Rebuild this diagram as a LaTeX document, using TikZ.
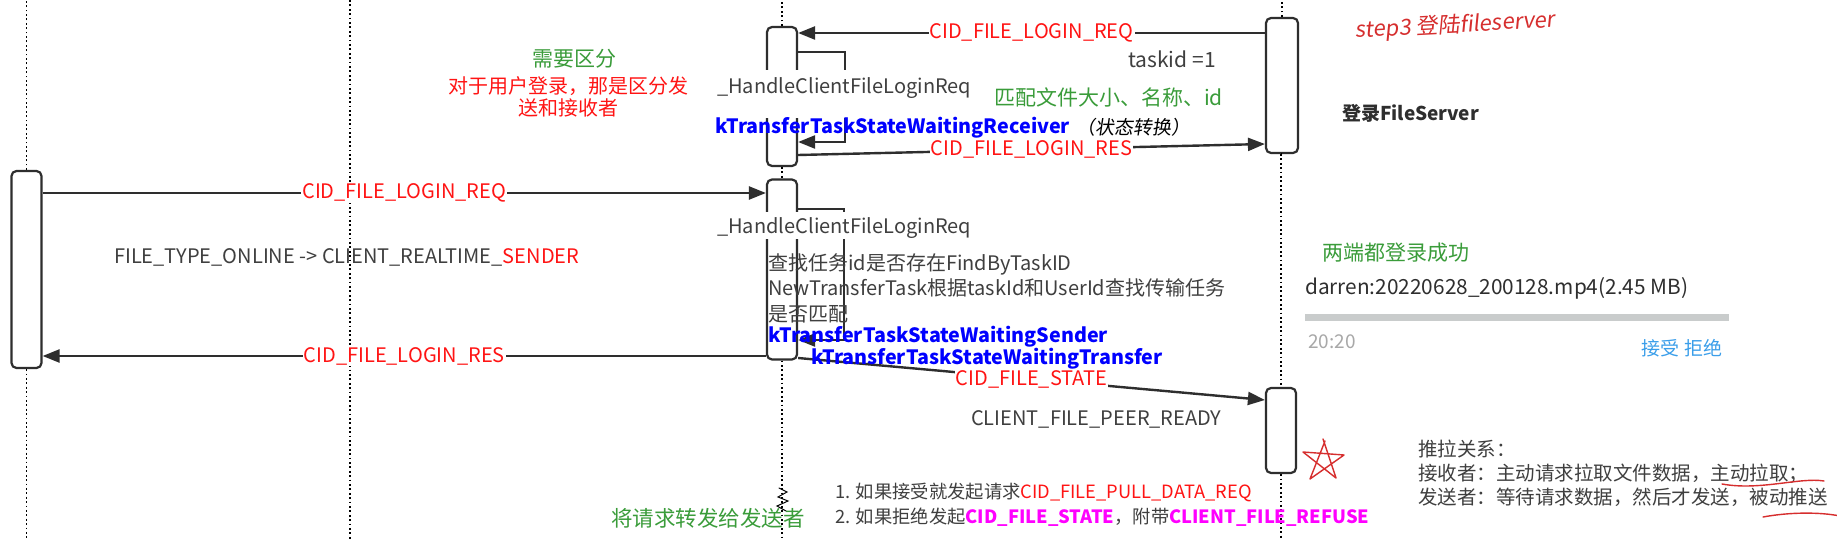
\documentclass[tikz,border=0pt]{standalone}
\usepackage{fontspec}
\setmainfont{Noto Sans CJK SC}
\newfontfamily\handfont[FakeSlant=0.15]{Noto Sans CJK SC}
\usetikzlibrary{arrows.meta}
\definecolor{ink}{HTML}{2E2E2E}
\definecolor{txtgray}{HTML}{3F3F3F}
\definecolor{noteRed}{HTML}{FF1414}
\definecolor{noteGreen}{HTML}{3A9C3A}
\definecolor{stateBlue}{HTML}{0000FF}
\definecolor{refuseMag}{HTML}{FF00FF}
\definecolor{penRed}{HTML}{D62E2E}
\definecolor{barGray}{HTML}{C9CCCC}
\definecolor{timeGray}{HTML}{A8A8A8}
\definecolor{btnBlue}{HTML}{3A9EEA}

\begin{document}
\begin{tikzpicture}[x=1pt, y=-1pt,
  lifeline/.style={draw=black, line width=1.8pt, dash pattern=on 1.8pt off 2.6pt},
  actbox/.style={draw=ink, line width=2.2pt, rounded corners=5pt, fill=white, minimum width=30pt, inner sep=0pt},
  msg/.style={draw=ink, line width=2.4pt, -{Triangle[length=17pt, width=13pt]}},
  msglabel/.style={fill=white, text=noteRed, inner sep=1pt, font=\fontsize{20}{24}\selectfont},
  note/.style={anchor=west, inner sep=0pt, text=txtgray, font=\fontsize{20}{25.5}\selectfont},
  state/.style={note, text=stateBlue, font=\fontsize{19.7}{25}\selectfont\bfseries},
  pen/.style={draw=penRed, line width=1.4pt, line cap=round, line join=round}]
  \useasboundingbox[fill=white] (0,0) rectangle (1837,540);
  \coordinate (top) at (0,0);
  \coordinate (bot) at (0,540);
  \coordinate (l2) at (350,0);

  \node[actbox, minimum height=197pt] (b1) at (26.5,269.5) {};
  \node[actbox, minimum height=139pt] (bA) at (782,96.5) {};
  \node[actbox, minimum height=180pt] (bB) at (782,269.5) {};
  \node[actbox, minimum width=32pt, minimum height=135pt] (bC) at (1282,85.5) {};
  \node[actbox, minimum height=85pt] (bD) at (1281,430.5) {};

  \draw[lifeline] (b1.north) -- (b1.north |- top);
  \draw[lifeline] (b1.south) -- (b1.south |- bot);
  \draw[lifeline] (l2) -- (l2 |- bot);
  \draw[lifeline] (bA.north) -- (bA.north |- top);
  \draw[lifeline] (bA.south) -- (bB.north);
  \draw[lifeline] (bB.south) -- (bB.south |- bot);
  \draw[lifeline] (bC.north) -- (bC.north |- top);
  \draw[lifeline] (bC.south) -- (bC.south -| bD.north);
  \draw[lifeline] (bC.south -| bD.north) -- (bD.north);
  \draw[lifeline] (bD.south) -- (bD.south |- bot);

  \draw[msg] (bC.west |- {(0,33)}) -- node[msglabel] (reqA) {CID\_FILE\_LOGIN\_REQ} (bA.east |- {(0,33)});
  \draw[msg] (bA.east |- {(0,52)}) -- ++(47,0) -- ++(0,90) -- (bA.east |- {(0,142)});
  \draw[msg] (bA.east |- {(0,155)}) -- node[msglabel] (resA) {CID\_FILE\_LOGIN\_RES} (bC.west |- {(0,144)});
  \draw[msg] (b1.east |- {(0,193)}) -- node[msglabel] (reqB) {CID\_FILE\_LOGIN\_REQ} (bB.west |- {(0,193)});
  \draw[msg] (bB.east |- {(0,209)}) -- ++(46,0) -- ++(0,131) -- (bB.east |- {(0,340)});
  \draw[msg] (bB.west |- {(0,356)}) -- node[msglabel] (resB) {CID\_FILE\_LOGIN\_RES} (b1.east |- {(0,356)});
  \draw[msg] (bB.east |- {(0,358)}) -- node[msglabel] (stateD) {CID\_FILE\_STATE} (bD.west |- {(0,400)});

  \node[note, anchor=base west, fill=white, inner xsep=1pt, text height=24pt, text depth=24pt] (handleA) at (716,94) {\_HandleClientFileLoginReq};
  \node[note, anchor=base west, fill=white, inner xsep=1pt, text height=22pt, text depth=5pt] (handleB) at (716,234) {\_HandleClientFileLoginReq};

  \node[note, text=noteGreen, font=\fontsize{21}{24}\selectfont] (diff) at (532,59) {需要区分};
  \node[note, anchor=center, align=center, text=noteRed, font=\fontsize{20}{22}\selectfont] (diffNote) at (568,97) {对于用户登录，那是区分发\\送和接收者};
  \node[note, font=\fontsize{21}{24}\selectfont] (taskid) at (1128,59) {taskid =1};
  \node[note, text=noteGreen, font=\fontsize{21}{24}\selectfont] (match) at (994,97) {匹配文件大小、名称、id};
  \node[state] (waitRecv) at (715,128) {kTransferTaskStateWaitingReceiver};
  \node[note, text=black, font=\fontsize{19}{24}\selectfont\handfont] (stateChg) at (1076,127) {（状态转换）};
  \node[note] (online) at (114,257) {FILE\_TYPE\_ONLINE -> CLIENT\_REALTIME\_\textcolor{noteRed}{SENDER}};
  \node[note, align=left] (findTask) at (768,288) {查找任务id是否存在FindByTaskID\\NewTransferTask根据taskId和UserId查找传输任务\\是否匹配};
  \node[state] (waitSend) at (768,337) {kTransferTaskStateWaitingSender};
  \node[state] (waitTrans) at (811,359) {kTransferTaskStateWaitingTransfer};
  \node[note] (peerReady) at (971,419) {CLIENT\_FILE\_PEER\_READY};
  \node[note, align=left, font=\fontsize{18.3}{25}\selectfont] (choice) at (835,505) {1. 如果接受就发起请求\textcolor{noteRed}{CID\_FILE\_PULL\_DATA\_REQ}\\2. 如果拒绝发起\textcolor{refuseMag}{\bfseries CID\_FILE\_STATE}，附带\textcolor{refuseMag}{\bfseries CLIENT\_FILE\_REFUSE}};
  \node[note, text=noteGreen, font=\fontsize{21.5}{24}\selectfont] (forward) at (611,518) {将请求转发给发送者};

  \node[note, text=penRed, rotate=3, font=\fontsize{22}{24}\selectfont\handfont] (step) at (1355,31) {step3 登陆fileserver};
  \node[note, text=ink, font=\fontsize{19}{24}\selectfont\bfseries] (login) at (1342,113) {登录FileServer};
  \node[note, text=noteGreen, font=\fontsize{21}{24}\selectfont] (both) at (1322,253) {两端都登录成功};
  \node[note, text=ink, font=\fontsize{20.8}{24}\selectfont] (fileName) at (1305,288) {darren:20220628\_200128.mp4(2.45 MB)};
  \fill[barGray] (1305,314) rectangle (1729,321);
  \node[note, text=timeGray, font=\fontsize{19}{24}\selectfont] (time) at (1308,342) {20:20};
  \node[note, text=btnBlue, font=\fontsize{19}{24}\selectfont] (btns) at (1641,348) {接受\hspace{5pt}拒绝};
  \node[note, anchor=north west, align=left, font=\fontsize{19.5}{24}\selectfont] (pushPull) at (1418,440) {推拉关系：\\接收者：主动请求拉取文件数据，主动拉取；\\发送者：等待请求数据，然后才发送，被动推送};

  \draw[pen] (1323,439) -- (1336,478) -- (1303,452) -- (1344,455) -- (1310,479) -- (1325,441);
  \draw[pen] (1722,484) .. controls (1760,491) and (1800,477) .. (1824,481);
  \draw[pen] (1763,517) .. controls (1790,512) and (1820,512) .. (1840,516);
  \draw[black, line width=1pt, line cap=round] (779,488) -- (787,492) -- (778,497) -- (788,501) -- (777,506) -- (786,511);
\end{tikzpicture}
\end{document}
